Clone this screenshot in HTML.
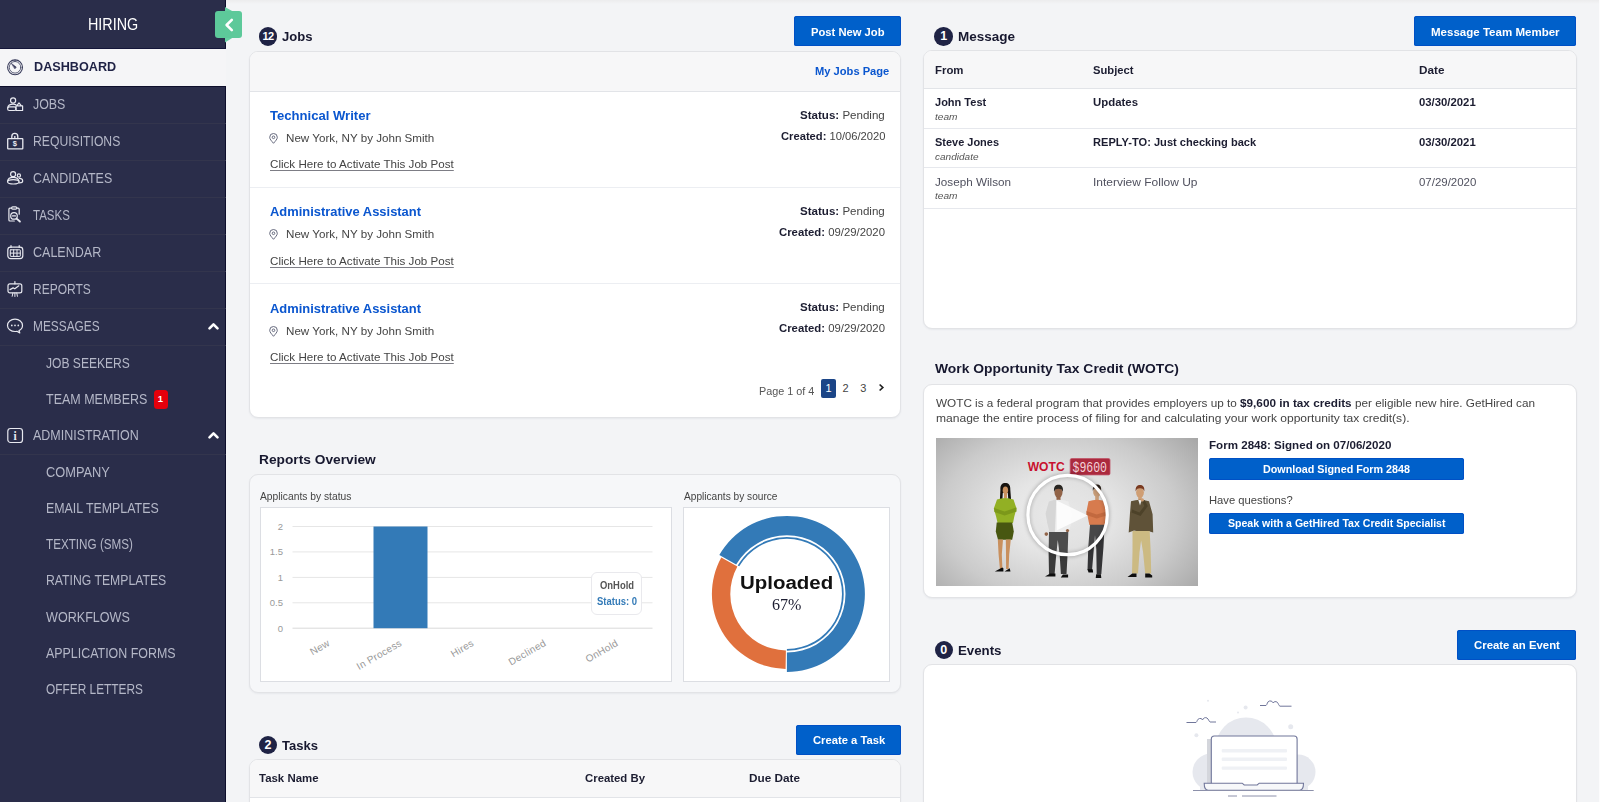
<!DOCTYPE html>
<html lang="en"><head><meta charset="utf-8"><title>Hiring Dashboard</title>
<style>
html,body{margin:0;padding:0}
body{width:1600px;height:802px;overflow:hidden;background:#f3f4f6;font-family:"Liberation Sans",sans-serif;position:relative}
.t{position:absolute;white-space:nowrap;line-height:1}
.a{position:absolute;box-sizing:border-box}
.side{left:0;top:0;width:226px;height:802px;background:#2a2d4a;box-shadow:inset -1px 0 0 #0d0e2c}
.side ul{list-style:none;margin:0;padding:0}
.row{left:0;width:226px;height:37px;border-top:1px solid #33354d}
.row.act{background:#f5f5f7;border-top:1px solid #f5f5f7}
.row.act+.row{border-top-color:#0e0f2c}
.card{background:#fff;border:1px solid #e2e3e6;border-radius:9px;box-shadow:0 1px 2px rgba(40,50,80,.06);overflow:hidden}
.chead{left:0;top:0;right:0;background:#f7f7f8;border-bottom:1px solid #e2e4e8}
.btn{background:#0060ca;border-radius:2.500px;box-shadow:inset 0 0 0 1px #0050c5}
.badge{background:#1f2345;border-radius:50%;width:18.600px;height:18.600px}
.sep{left:0;right:0;height:1px;background:#eceef2}
svg{position:absolute;overflow:visible}
</style></head>
<body>
<nav class="a side">
<div class="a" style="left:0;top:0;width:226px;height:49px;border-bottom:1px solid #14163a">
<span class="t" style="font-size:16px;color:#fff;transform:scaleX(0.8964);transform-origin:0 50%;left:87.9px;top:16.8px;">HIRING</span>
</div>
<ul>
<li class="a row act" style="top:49px">
<svg style="color:#3a3d5c;left:0;top:-1px" width="30" height="37" viewBox="0 0 30 37" fill="none" stroke="#3a3d5c" stroke-width="1.2" stroke-linecap="round" stroke-linejoin="round"><circle cx="15.050" cy="18.300" r="7.450" stroke-width="1.100"/><circle cx="15.050" cy="18.300" r="5.800" stroke-width=".8"/><path d="M11.400 14.400L16.300 18.100 15 19.700Z" fill="currentColor" stroke-width=".5"/><path d="M15.050 11.200v1.200" stroke-width=".9"/></svg>
<span class="t" style="font-size:12px;font-weight:700;color:#1f2245;transform:scaleX(1.0538);transform-origin:0 50%;left:33.8px;top:11.4px;">DASHBOARD</span>
</li>
<li class="a row" style="top:86px">
<svg style="color:#e8e9f0;left:0;top:-1px" width="30" height="37" viewBox="0 0 30 37" fill="none" stroke="#e8e9f0" stroke-width="1.2" stroke-linecap="round" stroke-linejoin="round"><circle cx="13.100" cy="14.500" r="2.550"/><path d="M7.800 21.700c.3-2.300 2.500-3.500 5.300-3.500 1.200 0 2.100.2 2.900.6"/><rect x="7.600" y="20.900" width="8.400" height="3.600" rx="1.800"/><path d="M16 24.500V19.900h6.600v4.600zM16.700 19.900L19 16.900l2.400 3"/></svg>
<span class="t" style="font-size:14.5px;color:#b4b7c7;transform:scaleX(0.8554);transform-origin:0 50%;left:33.2px;top:9.7px;">JOBS</span>
</li>
<li class="a row" style="top:123px">
<svg style="color:#e8e9f0;left:0;top:-1px" width="30" height="37" viewBox="0 0 30 37" fill="none" stroke="#e8e9f0" stroke-width="1.2" stroke-linecap="round" stroke-linejoin="round"><rect x="7.700" y="15.600" width="15.100" height="10.200" rx=".6" stroke-width="1.300"/><path d="M11.800 15.600V13.400a3 3 0 0 1 6 0v2.200" stroke-width="1.300"/><circle cx="14.800" cy="14" r=".9" fill="currentColor" stroke="none"/><text x="14.800" y="23.400" text-anchor="middle" font-family="Liberation Sans, sans-serif" font-weight="700" font-size="7.500" fill="currentColor" stroke="none">$</text></svg>
<span class="t" style="font-size:14.5px;color:#b4b7c7;transform:scaleX(0.8399);transform-origin:0 50%;left:33.2px;top:9.7px;">REQUISITIONS</span>
</li>
<li class="a row" style="top:160px">
<svg style="color:#e8e9f0;left:0;top:-1px" width="30" height="37" viewBox="0 0 30 37" fill="none" stroke="#e8e9f0" stroke-width="1.2" stroke-linecap="round" stroke-linejoin="round"><circle cx="13.100" cy="14.200" r="2.500"/><circle cx="18.900" cy="15.500" r="1.600"/><ellipse cx="13.300" cy="21.800" rx="5.800" ry="2.200"/><path d="M7.600 21.200c.3-2.700 2.700-3.900 5.600-3.900s5.200 1.200 5.700 3.900"/><path d="M19.300 18.300c2.100-.1 3.400 1.200 3.400 2.700 0 1.200-1.300 1.900-3.400 1.900"/></svg>
<span class="t" style="font-size:14.5px;color:#b4b7c7;transform:scaleX(0.8572);transform-origin:0 50%;left:33.2px;top:9.7px;">CANDIDATES</span>
</li>
<li class="a row" style="top:197px">
<svg style="color:#e8e9f0;left:0;top:-1px" width="30" height="37" viewBox="0 0 30 37" fill="none" stroke="#e8e9f0" stroke-width="1.2" stroke-linecap="round" stroke-linejoin="round"><path d="M11.600 11.200H9.900a1 1 0 0 0-1 1V23a1 1 0 0 0 1 1h4.400M16.800 11.200h1.400a1 1 0 0 1 1 1v5"/><rect x="11.600" y="9.900" width="5.200" height="2.300" rx="1.100"/><circle cx="14" cy="18.900" r="3.300"/><path d="M16.600 21.600l3.300 2.900" stroke-width="1.900"/><path d="M12.500 18.900h3"/></svg>
<span class="t" style="font-size:14.5px;color:#b4b7c7;transform:scaleX(0.7941);transform-origin:0 50%;left:33.2px;top:9.7px;">TASKS</span>
</li>
<li class="a row" style="top:234px">
<svg style="color:#e8e9f0;left:0;top:-1px" width="30" height="37" viewBox="0 0 30 37" fill="none" stroke="#e8e9f0" stroke-width="1.2" stroke-linecap="round" stroke-linejoin="round"><rect x="7.800" y="13.100" width="15" height="11.500" rx="2.800"/><rect x="10.300" y="15.800" width="10" height="6.600" rx=".5" stroke-width="1"/><path d="M10.300 19.100h10M13.650 15.800v6.600M17 15.800v6.600" stroke-width="1"/><path d="M11 11.500v2M19.200 11.500v2"/></svg>
<span class="t" style="font-size:14.5px;color:#b4b7c7;transform:scaleX(0.8636);transform-origin:0 50%;left:33.2px;top:9.7px;">CALENDAR</span>
</li>
<li class="a row" style="top:271px">
<svg style="color:#e8e9f0;left:0;top:-1px" width="30" height="37" viewBox="0 0 30 37" fill="none" stroke="#e8e9f0" stroke-width="1.2" stroke-linecap="round" stroke-linejoin="round"><rect x="8" y="12.900" width="13.800" height="9" rx="1.900"/><path d="M14.900 10.600v2.200M10 18.600l3.100-1.700 1.700.9 4-3"/><path d="M12.900 22l-.7 3.300M14.900 22v3.500M16.800 22l.6 3.300" stroke-width="1"/></svg>
<span class="t" style="font-size:14.5px;color:#b4b7c7;transform:scaleX(0.8276);transform-origin:0 50%;left:33.2px;top:9.7px;">REPORTS</span>
</li>
<li class="a row" style="top:308px">
<svg style="color:#e8e9f0;left:0;top:-1px" width="30" height="37" viewBox="0 0 30 37" fill="none" stroke="#e8e9f0" stroke-width="1.2" stroke-linecap="round" stroke-linejoin="round"><path d="M15 11.200c4.200 0 7.500 2.700 7.500 6.200 0 2.200-1.400 4.100-3.500 5.200l.8 2.400-2.900-1.700c-.6.100-1.200.2-1.900.2-4.200 0-7.500-2.700-7.500-6.100s3.300-6.200 7.500-6.200z"/><g fill="currentColor" stroke="none"><circle cx="11.800" cy="17.400" r=".85"/><circle cx="15" cy="17.400" r=".85"/><circle cx="18.300" cy="17.400" r=".85"/></g></svg>
<span class="t" style="font-size:14.5px;color:#b4b7c7;transform:scaleX(0.8183);transform-origin:0 50%;left:33.2px;top:9.7px;">MESSAGES</span>
<svg style="left:208px;top:13px" width="11" height="8" viewBox="0 0 11 8"><path d="M1.500 6.300L5.500 2.300l4 4" fill="none" stroke="#fff" stroke-width="2.600" stroke-linecap="round" stroke-linejoin="round"/></svg>
</li>
<li class="a" style="left:0;top:345px;width:226px;height:36px;border-top:1px solid #33354d">
<span class="t" style="font-size:14.5px;color:#b4b7c7;transform:scaleX(0.8329);transform-origin:0 50%;left:46.3px;top:10.2px;">JOB SEEKERS</span>
</li>
<li class="a" style="left:0;top:381px;width:226px;height:36px">
<span class="t" style="font-size:14.5px;color:#b4b7c7;transform:scaleX(0.8621);transform-origin:0 50%;left:46.3px;top:11.2px;">TEAM MEMBERS</span>
<span class="a" style="left:153.500px;top:9.2px;width:14.500px;height:18.600px;background:#e5000b;border-radius:3.500px"></span>
<span class="t" style="font-size:9.5px;font-weight:700;color:#fff;left:157.8px;top:13.3px;">1</span>
</li>
<li class="a row" style="top:417px;border-top-color:transparent">
<svg style="color:#e8e9f0;left:0;top:-1px" width="30" height="37" viewBox="0 0 30 37" fill="none" stroke="#e8e9f0" stroke-width="1.2" stroke-linecap="round" stroke-linejoin="round"><rect x="7.800" y="11.500" width="14.700" height="14" rx="2.800"/><text x="15.200" y="22.900" text-anchor="middle" font-family="Liberation Serif, serif" font-weight="700" font-size="11.500" fill="currentColor" stroke="none">i</text></svg>
<span class="t" style="font-size:14.5px;color:#b4b7c7;transform:scaleX(0.8603);transform-origin:0 50%;left:33.2px;top:10.2px;">ADMINISTRATION</span>
<svg style="left:208px;top:13px" width="11" height="8" viewBox="0 0 11 8"><path d="M1.500 6.300L5.500 2.300l4 4" fill="none" stroke="#fff" stroke-width="2.600" stroke-linecap="round" stroke-linejoin="round"/></svg>
</li>
<li class="a" style="left:0;top:454px;width:226px;height:36px;border-top:1px solid #33354d">
<span class="t" style="font-size:14.5px;color:#b4b7c7;transform:scaleX(0.8844);transform-origin:0 50%;left:46.3px;top:10.2px;">COMPANY</span>
</li>
<li class="a" style="left:0;top:490px;width:226px;height:36px">
<span class="t" style="font-size:14.5px;color:#b4b7c7;transform:scaleX(0.8545);transform-origin:0 50%;left:46.3px;top:11.2px;">EMAIL TEMPLATES</span>
</li>
<li class="a" style="left:0;top:526px;width:226px;height:36px">
<span class="t" style="font-size:14.5px;color:#b4b7c7;transform:scaleX(0.8059);transform-origin:0 50%;left:46.3px;top:11.2px;">TEXTING (SMS)</span>
</li>
<li class="a" style="left:0;top:562px;width:226px;height:36px">
<span class="t" style="font-size:14.5px;color:#b4b7c7;transform:scaleX(0.8429);transform-origin:0 50%;left:46.3px;top:11.2px;">RATING TEMPLATES</span>
</li>
<li class="a" style="left:0;top:599px;width:226px;height:36px">
<span class="t" style="font-size:14.5px;color:#b4b7c7;transform:scaleX(0.8679);transform-origin:0 50%;left:46.3px;top:11.2px;">WORKFLOWS</span>
</li>
<li class="a" style="left:0;top:635px;width:226px;height:36px">
<span class="t" style="font-size:14.5px;color:#b4b7c7;transform:scaleX(0.8571);transform-origin:0 50%;left:46.3px;top:11.2px;">APPLICATION FORMS</span>
</li>
<li class="a" style="left:0;top:671px;width:226px;height:36px">
<span class="t" style="font-size:14.5px;color:#b4b7c7;transform:scaleX(0.8190);transform-origin:0 50%;left:46.3px;top:11.2px;">OFFER LETTERS</span>
</li>
</ul>
</nav>
<svg style="left:225px;top:7px" width="9" height="36" viewBox="0 0 9 36"><path d="M0 0L8 4.500H0zM0 35.400L8 30.600H0z" fill="#66cfa2"/></svg>
<div class="a" style="left:215px;top:11.200px;width:27.200px;height:26.700px;background:#5dc99a;border-radius:3px">
<svg style="left:8.500px;top:6.500px" width="10" height="14" viewBox="0 0 10 14"><path d="M7.800 1.800L2.600 7l5.200 5.200" fill="none" stroke="#fff" stroke-width="2.600" stroke-linecap="round" stroke-linejoin="round"/></svg>
</div>
<main>
<section>
<h2 style="margin:0;font-size:13px">
<span class="a badge" style="left:258.7px;top:27.0px"></span>
<span class="t" style="font-size:11px;font-weight:700;color:#fff;left:262.5px;top:30.9px;letter-spacing:-0.600px;">12</span>
<span class="t" style="font-size:12px;font-weight:700;color:#17182f;transform:scaleX(1.0887);transform-origin:0 50%;left:281.5px;top:30.9px;">Jobs</span>
</h2>
<button class="a btn" style="left:794.0px;top:16.0px;width:107.0px;height:30.0px;border:0;padding:0;font-family:inherit">
<span class="t" style="font-size:11px;font-weight:700;color:#fff;transform:scaleX(1.0191);transform-origin:0 50%;left:17.0px;top:11.2px;">Post New Job</span>
</button>
<div class="a card" style="left:249px;top:51px;width:652px;height:366.500px">
<div class="a chead" style="height:40px">
<span class="t" style="font-size:11px;font-weight:700;color:#0a56cf;transform:scaleX(1.0128);transform-origin:0 50%;left:565.2px;top:14.3px;">My Jobs Page</span>
</div>
<article>
<span class="t" style="font-size:12px;font-weight:700;color:#0a56cf;transform:scaleX(1.0894);transform-origin:0 50%;left:20.0px;top:58.1px;">Technical Writer</span>
<svg style="left:18.9px;top:81.0px" width="9" height="11" viewBox="0 0 9 11"><path d="M4.500 10.300C2.500 7.900 .7 6.200 .7 4.300a3.800 3.800 0 0 1 7.600 0c0 1.900-1.800 3.600-3.800 6z" fill="none" stroke="#666a7e" stroke-width="1"/><circle cx="4.500" cy="4.300" r="1.300" fill="none" stroke="#666a7e" stroke-width="1"/></svg>
<span class="t" style="font-size:11px;color:#444;transform:scaleX(1.0561);transform-origin:0 50%;left:36.2px;top:81.0px;">New York, NY by John Smith</span>
<span class="t" style="font-size:11px;color:#444;text-decoration:underline;text-decoration-color:#7d7d85;text-underline-offset:1.500px;transform:scaleX(1.0560);transform-origin:0 50%;left:20.0px;top:107.2px;">Click Here to Activate This Job Post</span>
<span class="t" style="font-size:11px;color:#444;transform:scaleX(1.0506);transform-origin:0 50%;left:550.2px;top:57.5px;"><b style="color:#1c1d31">Status:</b> Pending</span>
<span class="t" style="font-size:11px;color:#444;transform:scaleX(1.0170);transform-origin:0 50%;left:530.5px;top:78.7px;"><b style="color:#1c1d31">Created:</b> 10/06/2020</span>
<div class="a sep" style="top:135.0px"></div>
</article>
<article>
<span class="t" style="font-size:12px;font-weight:700;color:#0a56cf;transform:scaleX(1.0765);transform-origin:0 50%;left:20.0px;top:153.9px;">Administrative Assistant</span>
<svg style="left:18.9px;top:177.3px" width="9" height="11" viewBox="0 0 9 11"><path d="M4.500 10.300C2.500 7.900 .7 6.200 .7 4.300a3.800 3.800 0 0 1 7.600 0c0 1.900-1.800 3.600-3.800 6z" fill="none" stroke="#666a7e" stroke-width="1"/><circle cx="4.500" cy="4.300" r="1.300" fill="none" stroke="#666a7e" stroke-width="1"/></svg>
<span class="t" style="font-size:11px;color:#444;transform:scaleX(1.0561);transform-origin:0 50%;left:36.2px;top:177.3px;">New York, NY by John Smith</span>
<span class="t" style="font-size:11px;color:#444;text-decoration:underline;text-decoration-color:#7d7d85;text-underline-offset:1.500px;transform:scaleX(1.0560);transform-origin:0 50%;left:20.0px;top:203.5px;">Click Here to Activate This Job Post</span>
<span class="t" style="font-size:11px;color:#444;transform:scaleX(1.0506);transform-origin:0 50%;left:550.2px;top:153.8px;"><b style="color:#1c1d31">Status:</b> Pending</span>
<span class="t" style="font-size:11px;color:#444;transform:scaleX(1.0316);transform-origin:0 50%;left:529.0px;top:175.0px;"><b style="color:#1c1d31">Created:</b> 09/29/2020</span>
<div class="a sep" style="top:231.4px"></div>
</article>
<article>
<span class="t" style="font-size:12px;font-weight:700;color:#0a56cf;transform:scaleX(1.0765);transform-origin:0 50%;left:20.0px;top:250.8px;">Administrative Assistant</span>
<svg style="left:18.9px;top:273.7px" width="9" height="11" viewBox="0 0 9 11"><path d="M4.500 10.300C2.500 7.900 .7 6.200 .7 4.300a3.800 3.800 0 0 1 7.600 0c0 1.900-1.800 3.600-3.800 6z" fill="none" stroke="#666a7e" stroke-width="1"/><circle cx="4.500" cy="4.300" r="1.300" fill="none" stroke="#666a7e" stroke-width="1"/></svg>
<span class="t" style="font-size:11px;color:#444;transform:scaleX(1.0561);transform-origin:0 50%;left:36.2px;top:273.7px;">New York, NY by John Smith</span>
<span class="t" style="font-size:11px;color:#444;text-decoration:underline;text-decoration-color:#7d7d85;text-underline-offset:1.500px;transform:scaleX(1.0560);transform-origin:0 50%;left:20.0px;top:299.9px;">Click Here to Activate This Job Post</span>
<span class="t" style="font-size:11px;color:#444;transform:scaleX(1.0506);transform-origin:0 50%;left:550.2px;top:250.2px;"><b style="color:#1c1d31">Status:</b> Pending</span>
<span class="t" style="font-size:11px;color:#444;transform:scaleX(1.0316);transform-origin:0 50%;left:529.0px;top:271.4px;"><b style="color:#1c1d31">Created:</b> 09/29/2020</span>
</article>
<span class="t" style="font-size:11px;color:#555;transform:scaleX(0.9843);transform-origin:0 50%;left:508.6px;top:333.7px;">Page 1 of 4</span>
<span class="a" style="left:571.0px;top:326.5px;width:15px;height:19.500px;background:#1b4587;border-radius:2px"></span>
<span class="t" style="font-size:11px;color:#fff;left:575.4px;top:331.0px;">1</span>
<span class="t" style="font-size:11px;color:#444;left:592.5px;top:331.0px;">2</span>
<span class="t" style="font-size:11px;color:#444;left:610.3px;top:331.0px;">3</span>
<svg style="left:627.5px;top:331.0px" width="7" height="9" viewBox="0 0 7 9"><path d="M1.600 1.500l3.200 3-3.200 3" fill="none" stroke="#222" stroke-width="1.700"/></svg>
</div>
</section>
<section>
<h2 style="margin:0;font-size:13px">
<span class="t" style="font-size:12px;font-weight:700;color:#17182f;transform:scaleX(1.1446);transform-origin:0 50%;left:259.4px;top:454.4px;">Reports Overview</span>
</h2>
<div class="a card" style="left:249px;top:474px;width:652px;height:218.500px;background:#f6f7f9">
<span class="t" style="font-size:10px;color:#444;transform:scaleX(1.0277);transform-origin:0 50%;left:9.5px;top:16.8px;">Applicants by status</span>
<span class="t" style="font-size:10px;color:#444;transform:scaleX(1.0132);transform-origin:0 50%;left:433.5px;top:16.8px;">Applicants by source</span>
<div class="a" style="left:10px;top:32px;width:412px;height:175px;background:#fff;border:1px solid #dcdee3">
<svg style="left:0;top:0" width="410" height="173" viewBox="261 508 410 173" font-family="Liberation Sans, sans-serif"><path d="M292.500 526.5H652.500" stroke="#e6e6e6" stroke-width="1"/><text x="283" y="530.0" text-anchor="end" font-size="9.500" fill="#999">2</text><path d="M292.500 551.9H652.500" stroke="#e6e6e6" stroke-width="1"/><text x="283" y="555.4" text-anchor="end" font-size="9.500" fill="#999">1.5</text><path d="M292.500 577.4H652.500" stroke="#e6e6e6" stroke-width="1"/><text x="283" y="580.9" text-anchor="end" font-size="9.500" fill="#999">1</text><path d="M292.500 602.8H652.500" stroke="#e6e6e6" stroke-width="1"/><text x="283" y="606.3" text-anchor="end" font-size="9.500" fill="#999">0.5</text><path d="M292.500 628.2H652.500" stroke="#d9d9d9" stroke-width="1"/><text x="283" y="631.7" text-anchor="end" font-size="9.500" fill="#999">0</text><rect x="373.500" y="526.500" width="54" height="101.700" fill="#337ab7"/><text transform="translate(330.5 645) rotate(-30)" text-anchor="end" font-size="10" fill="#999" letter-spacing=".3">New</text><text transform="translate(402.6 645) rotate(-30)" text-anchor="end" font-size="10" fill="#999" letter-spacing=".3">In Process</text><text transform="translate(474.7 645) rotate(-30)" text-anchor="end" font-size="10" fill="#999" letter-spacing=".3">Hires</text><text transform="translate(546.8 645) rotate(-30)" text-anchor="end" font-size="10" fill="#999" letter-spacing=".3">Declined</text><text transform="translate(618.9 645) rotate(-30)" text-anchor="end" font-size="10" fill="#999" letter-spacing=".3">OnHold</text></svg>
<div class="a" style="left:330.2px;top:64.0px;width:50.500px;height:43px;background:#fff;border:1px solid #e9e9ed;border-radius:6px">
<span class="t" style="font-size:10px;font-weight:700;color:#555;transform:scaleX(0.9416);transform-origin:0 50%;left:7.4px;top:7.8px;">OnHold</span>
<span class="t" style="font-size:10px;font-weight:700;color:#337ab7;transform:scaleX(0.9471);transform-origin:0 50%;left:4.4px;top:23.6px;">Status: 0</span>
</div>
</div>
<div class="a" style="left:433px;top:32px;width:207px;height:175px;background:#fff;border:1px solid #dcdee3">
<svg style="left:0;top:0" width="205" height="173" viewBox="684 508 205 173"><path d="M719.35 554.90A78.00 78.00 0 1 1 786.90 671.90L786.90 652.50A58.60 58.60 0 1 0 736.15 564.60Z" fill="#337ab7"/><path d="M737.71 565.50A56.80 56.80 0 1 1 786.90 650.70L786.90 649.00A55.10 55.10 0 1 0 739.18 566.35Z" fill="#337ab7"/><path d="M785.59 668.89A75.00 75.00 0 0 1 721.30 557.54L737.40 566.46A56.60 56.60 0 0 0 785.91 650.49Z" fill="#e0703d"/></svg>
<span class="t" style="font-size:18px;font-weight:700;color:#111;transform:scaleX(1.1364);transform-origin:0 50%;left:55.9px;top:65.6px;">Uploaded</span>
<span class="t" style="font-size:16px;color:#1c1d31;font-family:'Liberation Serif', serif;transform:scaleX(1.0025);transform-origin:0 50%;left:87.7px;top:88.7px;">67%</span>
</div>
</div>
</section>
<section>
<h2 style="margin:0;font-size:13px">
<span class="a badge" style="left:258.7px;top:735.9px"></span>
<span class="t" style="font-size:12.5px;font-weight:700;color:#fff;left:264.5px;top:739.1px;">2</span>
<span class="t" style="font-size:12px;font-weight:700;color:#17182f;transform:scaleX(1.0863);transform-origin:0 50%;left:281.6px;top:739.7px;">Tasks</span>
</h2>
<button class="a btn" style="left:796.0px;top:724.6px;width:105.0px;height:30.2px;border:0;padding:0;font-family:inherit">
<span class="t" style="font-size:11px;font-weight:700;color:#fff;transform:scaleX(1.0207);transform-origin:0 50%;left:16.5px;top:10.3px;">Create a Task</span>
</button>
<div class="a card" style="left:249px;top:759px;width:652px;height:80px">
<div class="a chead" style="height:38px">
<span class="t" style="font-size:11px;font-weight:700;color:#1c1d31;transform:scaleX(1.0405);transform-origin:0 50%;left:9.0px;top:12.6px;">Task Name</span>
<span class="t" style="font-size:11px;font-weight:700;color:#1c1d31;transform:scaleX(1.0331);transform-origin:0 50%;left:335.0px;top:12.6px;">Created By</span>
<span class="t" style="font-size:11px;font-weight:700;color:#1c1d31;transform:scaleX(1.0695);transform-origin:0 50%;left:498.7px;top:12.6px;">Due Date</span>
</div>
</div>
</section>
<section>
<h2 style="margin:0;font-size:13px">
<span class="a badge" style="left:934.4px;top:27.0px"></span>
<span class="t" style="font-size:12.5px;font-weight:700;color:#fff;left:940.2px;top:30.2px;">1</span>
<span class="t" style="font-size:12px;font-weight:700;color:#17182f;transform:scaleX(1.1242);transform-origin:0 50%;left:957.5px;top:31.1px;">Message</span>
</h2>
<button class="a btn" style="left:1414.3px;top:16.0px;width:162.0px;height:30.0px;border:0;padding:0;font-family:inherit">
<span class="t" style="font-size:11px;font-weight:700;color:#fff;transform:scaleX(1.0482);transform-origin:0 50%;left:16.9px;top:11.2px;">Message Team Member</span>
</button>
<div class="a card" style="left:923px;top:50px;width:654px;height:278.500px">
<div class="a chead" style="height:38px">
<span class="t" style="font-size:11px;font-weight:700;color:#1c1d31;transform:scaleX(1.0364);transform-origin:0 50%;left:10.5px;top:14.2px;">From</span>
<span class="t" style="font-size:11px;font-weight:700;color:#1c1d31;transform:scaleX(1.0193);transform-origin:0 50%;left:168.5px;top:14.2px;">Subject</span>
<span class="t" style="font-size:11px;font-weight:700;color:#1c1d31;transform:scaleX(1.0653);transform-origin:0 50%;left:495.0px;top:14.2px;">Date</span>
</div>
<div>
<span class="t" style="font-size:11px;font-weight:700;color:#1c1d31;transform:scaleX(1.0012);transform-origin:0 50%;left:10.5px;top:46.2px;">John Test</span>
<span class="t" style="font-size:9.5px;color:#555;font-style:italic;transform:scaleX(1.0651);transform-origin:0 50%;left:10.5px;top:61.3px;">team</span>
<span class="t" style="font-size:11px;font-weight:700;color:#1c1d31;transform:scaleX(1.0367);transform-origin:0 50%;left:168.5px;top:46.2px;">Updates</span>
<span class="t" style="font-size:11px;font-weight:700;color:#1c1d31;transform:scaleX(1.0297);transform-origin:0 50%;left:495.0px;top:46.2px;">03/30/2021</span>
<div class="a sep" style="top:77.0px;background:#e6e8ed"></div>
</div>
<div>
<span class="t" style="font-size:11px;font-weight:700;color:#1c1d31;transform:scaleX(0.9968);transform-origin:0 50%;left:10.5px;top:85.8px;">Steve Jones</span>
<span class="t" style="font-size:9.5px;color:#555;font-style:italic;transform:scaleX(1.0557);transform-origin:0 50%;left:10.5px;top:100.8px;">candidate</span>
<span class="t" style="font-size:11px;font-weight:700;color:#1c1d31;transform:scaleX(1.0073);transform-origin:0 50%;left:168.5px;top:85.8px;">REPLY-TO: Just checking back</span>
<span class="t" style="font-size:11px;font-weight:700;color:#1c1d31;transform:scaleX(1.0297);transform-origin:0 50%;left:495.0px;top:85.8px;">03/30/2021</span>
<div class="a sep" style="top:116.0px;background:#e6e8ed"></div>
</div>
<div>
<span class="t" style="font-size:11px;color:#50515f;transform:scaleX(1.0622);transform-origin:0 50%;left:10.5px;top:125.8px;">Joseph Wilson</span>
<span class="t" style="font-size:9.5px;color:#555;font-style:italic;transform:scaleX(1.0651);transform-origin:0 50%;left:10.5px;top:140.1px;">team</span>
<span class="t" style="font-size:11px;color:#50515f;transform:scaleX(1.0887);transform-origin:0 50%;left:168.5px;top:125.8px;">Interview Follow Up</span>
<span class="t" style="font-size:11px;color:#50515f;transform:scaleX(1.0406);transform-origin:0 50%;left:495.0px;top:125.8px;">07/29/2020</span>
<div class="a sep" style="top:157.0px;background:#e6e8ed"></div>
</div>
</div>
</section>
<section>
<h2 style="margin:0;font-size:13px">
<span class="t" style="font-size:12.5px;font-weight:700;color:#17182f;transform:scaleX(1.1107);transform-origin:0 50%;left:934.6px;top:362.7px;">Work Opportunity Tax Credit (WOTC)</span>
</h2>
<div class="a card" style="left:923px;top:384px;width:654px;height:213.500px">
<span class="t" style="font-size:11px;color:#444;transform:scaleX(1.0672);transform-origin:0 50%;left:11.5px;top:12.9px;">WOTC is a federal program that provides employers up to <b style="color:#1c1d31">$9,600 in tax credits</b> per eligible new hire. GetHired can</span>
<span class="t" style="font-size:11px;color:#444;transform:scaleX(1.0954);transform-origin:0 50%;left:11.5px;top:28.3px;">manage the entire process of filing for and calculating your work opportunity tax credit(s).</span>
<div class="a" style="left:12.0px;top:53.4px;width:261.600px;height:147.600px;overflow:hidden;background:radial-gradient(ellipse 68% 84% at 47% 52%,#efefef 0%,#e5e5e5 30%,#cbcbcb 66%,#a6a6a6 100%)">
<svg style="left:0;top:0" width="262" height="148" viewBox="936 438.400 262 148" font-family="Liberation Sans, sans-serif"><g><path d="M1000.400 490c-.3-4.600 1.900-6.500 4.900-6.500s5.300 1.900 5 6.500l.9 11.500h-2.800l-.6-8h-5l-.5 8.500h-2.500z" fill="#17130f"/><ellipse cx="1005.400" cy="490.600" rx="2.700" ry="3.800" fill="#c9905e"/><rect x="1004" y="493.500" width="3" height="5" fill="#c9905e"/><path d="M997 499.800q8.300-3 16.500 0l3 9.200-2.200 8-1.300 6.500h-15.400l-1.500-6.500-2.300-8z" fill="#92b024"/><path d="M994.200 508.500l10.300 3.300 11.800-3.800.3 3.800-12 4-10.200-3.300z" fill="#7c981a"/><path d="M996.700 523h15.500l1.600 9-1.600 8.200h-14.200l-2.200-8.200z" fill="#485711"/><path d="M997.800 540h5.200l-1.200 15 .6 14.500h-2.500l-1.300-14.500zM1005.800 540h5l-1.600 15-.6 14.500h-2.500l-.1-14.500z" fill="#c9905e"/><path d="M994.800 572l7.400-4 1.200.6v3.400zM1004.500 571.800l5.200-3.200.8 3.200z" fill="#0c0c0c"/></g><g><ellipse cx="1058.500" cy="493" rx="4" ry="5.200" fill="#8a5535"/><rect x="1056.500" y="496.500" width="4" height="5" fill="#8a5535"/><path d="M1054.100 492.500c-.8-5.500 1.800-7.300 4.400-7.300s5.200 1.800 4.400 7.300c-.5-2.200-1.700-3.400-4.400-3.400s-3.900 1.200-4.400 3.400z" fill="#120e0a"/><path d="M1048.800 501.800q9.700-3.200 19.400 0l3.800 12-1 10-2.300 9h-19.200l-2.200-9-1.800-10z" fill="#f3f3f3"/><path d="M1048.800 501.800q4-1.400 7.500-1.800l-1.500 32.800h-5.300l-2.200-9-1.800-10z" fill="#d9d9d9"/><circle cx="1046.300" cy="534.500" r="1.800" fill="#8a5535"/><circle cx="1067.500" cy="531" r="1.600" fill="#8a5535"/><path d="M1049 532.500h19.300l-.6 20-1.200 22h-5.600l-1.300-20-1.800-14-1.500 14-1.700 20h-5.600l-.4-22z" fill="#3a3a3a"/><path d="M1045 577l5.200-3.200h5.200v3.200zM1060.800 578h7.300v-3.200h-5.200z" fill="#0e0e0e"/></g><g><ellipse cx="1097" cy="492.300" rx="3.800" ry="5.100" fill="#c9976c"/><rect x="1095.200" y="496" width="3.600" height="5" fill="#c9976c"/><path d="M1092.900 491.500c-.6-5 1.600-6.500 4.100-6.500s4.700 1.500 4.100 6.500c-.5-2-1.600-3.200-4.100-3.200s-3.600 1.200-4.100 3.200z" fill="#2a1f18"/><path d="M1088.500 501.600q8.500-3 17 0l1.700 9-1.200 8-1.400 6.800h-15.200l-1.400-6.800-1.200-8z" fill="#da703c"/><path d="M1086.300 511.500l10.300 3.300 10.400-3 .2 3.800-10.500 3.200-10.300-3.400z" fill="#c25c2b"/><path d="M1090 525.200h14.600l-1.100 22-2.200 27.500h-4.600l-.4-25-1.300-14-1.200 14-1.800 21h-4.500l.8-23.500z" fill="#343436"/><path d="M1088.500 572.800l-1 -3.200h5.200l.4 3.200zM1095.700 578.300l.5-3.600h4.700l.4 3.600z" fill="#0e0e0e"/></g><g><ellipse cx="1140" cy="493" rx="3.900" ry="5.100" fill="#cf9e74"/><rect x="1138.200" y="496.500" width="3.600" height="5" fill="#cf9e74"/><path d="M1135.700 492c-.6-5.200 1.700-6.700 4.300-6.700s4.900 1.500 4.300 6.700c-.5-2.100-1.700-3.300-4.300-3.300s-3.800 1.200-4.300 3.300z" fill="#7a3a20"/><path d="M1131 501.600q9-3 18 0l3.600 13 .6 18.200-5.200-1.500-6.500 1-7.500-1.500-5.300 2 1.200-18.200z" fill="#5f5238"/><path d="M1138.300 500.300l1.700 5.500 1.700-5.500z" fill="#ececec"/><path d="M1131.500 513l9 3.500 7.300-10 -3.300-6 -2.300 1.200 2.200 4.600-5 6.500-7.300-3z" fill="#4d4229"/><circle cx="1142.300" cy="500.300" r="1.700" fill="#cf9e74"/><path d="M1132.500 531.500h17.200l1 21 .5 21.500h-6l-2.100-21-2-12-1.600 12-1.500 21h-6l.5-21.500z" fill="#ccba82"/><path d="M1127.500 577.300l4.800-3.300h4.200v3.300zM1145.200 578h7v-2l-2.800-2h-4.200z" fill="#0e0e0e"/></g><text x="1027.700" y="471.900" font-size="13.500" font-weight="700" fill="#c8102e" textLength="37" lengthAdjust="spacingAndGlyphs">WOTC</text><rect x="1070.200" y="458.900" width="39.800" height="16.400" rx="1.500" fill="#ab2a3e" stroke="#c0566a" stroke-width=".8"/><text x="1072.500" y="472.600" font-size="15" fill="#f3d3d8" textLength="34.500" lengthAdjust="spacingAndGlyphs" font-family="Liberation Mono, monospace">$9600</text><circle cx="1067.600" cy="515.400" r="39.700" fill="rgba(255,255,255,.10)" stroke="#fff" stroke-width="3.200" style="filter:drop-shadow(0 0 2px rgba(0,0,0,.35))"/><path d="M1056.600 500.800v30l31-15z" fill="rgba(255,255,255,.82)"/></svg>
</div>
<span class="t" style="font-size:11px;font-weight:700;color:#1c1d31;transform:scaleX(1.0541);transform-origin:0 50%;left:285.3px;top:54.7px;">Form 2848: Signed on 07/06/2020</span>
<button class="a btn" style="left:285.3px;top:73.2px;width:255.200px;height:21.700px;border:0;padding:0;font-family:inherit">
<span class="t" style="font-size:11px;font-weight:700;color:#fff;transform:scaleX(0.9777);transform-origin:0 50%;left:54.1px;top:5.4px;">Download Signed Form 2848</span>
</button>
<span class="t" style="font-size:11px;color:#444;transform:scaleX(1.0213);transform-origin:0 50%;left:285.3px;top:110.3px;">Have questions?</span>
<button class="a btn" style="left:285.3px;top:128.1px;width:255.200px;height:20.500px;border:0;padding:0;font-family:inherit">
<span class="t" style="font-size:11px;font-weight:700;color:#fff;transform:scaleX(0.9599);transform-origin:0 50%;left:18.9px;top:4.8px;">Speak with a GetHired Tax Credit Specialist</span>
</button>
</div>
</section>
<section>
<h2 style="margin:0;font-size:13px">
<span class="a badge" style="left:934.5px;top:640.6px"></span>
<span class="t" style="font-size:12.5px;font-weight:700;color:#fff;left:940.3px;top:643.8px;">0</span>
<span class="t" style="font-size:12px;font-weight:700;color:#17182f;transform:scaleX(1.1052);transform-origin:0 50%;left:957.9px;top:644.7px;">Events</span>
</h2>
<button class="a btn" style="left:1457.2px;top:629.8px;width:119.3px;height:29.9px;border:0;padding:0;font-family:inherit">
<span class="t" style="font-size:11px;font-weight:700;color:#fff;transform:scaleX(1.0330);transform-origin:0 50%;left:16.5px;top:10.2px;">Create an Event</span>
</button>
<div class="a card" style="left:923px;top:664px;width:654px;height:170px">
<svg style="left:0;top:0" width="652" height="140" viewBox="924 665 652 140"><g fill="#e6e8ee"><circle cx="1246" cy="748" r="30.500"/><circle cx="1211" cy="772" r="18.500"/><circle cx="1298" cy="772" r="17.500"/><rect x="1200" y="760" width="108" height="30"/></g><rect x="1207" y="739" width="5" height="50" fill="#d4d6dc"/><rect x="1211.300" y="736" width="85.800" height="50" rx="3" fill="#fff" stroke="#70769a" stroke-width="1.100"/><g fill="#eff1f5"><rect x="1221.700" y="749" width="65.300" height="3.400" rx="1"/><rect x="1221.700" y="757.600" width="65.300" height="3.400" rx="1"/><rect x="1221.700" y="766.400" width="65.300" height="3.400" rx="1"/></g><path d="M1204.200 783.200h38l2 1.800h13l2-1.800h44.300c0 4-1.500 7-4 7h-91.300c-2.500 0-4-3-4-7z" fill="#f7f8fa" stroke="#70769a" stroke-width="1.100"/><path d="M1193 790.500h120.700M1228 796h9M1242 796h34.500" stroke="#8c90aa" stroke-width="1" fill="none"/><path d="M1186.500 722.500h9.500c1.500-1 1-3.500 3.500-4s3 1.500 3 1.500c.5-2 3-3 4.500-2s2 3.500 3 4h6" fill="none" stroke="#70769a" stroke-width="1"/><path d="M1260 705.500h6c1.500-1 1-4 3.500-4.500s3.500 1.500 3.500 2c.8-1.500 3-1.800 4.200-.8s1.500 3.600 2.800 4h11.500" fill="none" stroke="#70769a" stroke-width="1"/><g fill="#e6e8ee"><circle cx="1208" cy="700.700" r="1"/><circle cx="1245.600" cy="707.400" r="2"/><circle cx="1238" cy="712.500" r="1"/><circle cx="1290.700" cy="726.700" r="2.500"/><circle cx="1196.400" cy="735.200" r="2"/></g></svg>
</div>
</section>
</main>
<div class="a" style="left:226px;top:0;right:0;height:4px;background:linear-gradient(#ececed,rgba(243,244,246,0))"></div>
<div class="a" style="left:1599px;top:0;width:1px;height:802px;background:#fcfcfd"></div>
</body></html>
